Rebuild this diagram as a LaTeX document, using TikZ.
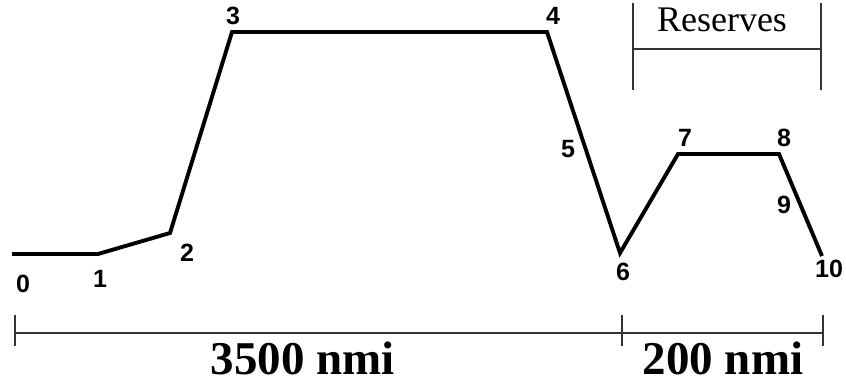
\documentclass[tikz,border=0pt]{standalone}
\usepackage{fontspec}
\setmainfont{Liberation Serif}
\newfontfamily\numfont{Liberation Sans}
\usetikzlibrary{positioning}

\tikzset{
  leg/.style={line width=3.9pt, line join=miter},
  ptlabel/.style={font=\numfont\bfseries\fontsize{25}{25}\selectfont, inner sep=0pt},
  bar/.style={line width=1.4pt, draw=black!80},
  dist/.style={font=\bfseries\fontsize{47}{47}\selectfont, inner sep=0pt, anchor=base},
}

\begin{document}
\begin{tikzpicture}[x=1pt,y=-1pt]
	\useasboundingbox (0,0) rectangle (846,383);
	% mission profile
	\coordinate (p0) at (12,254);
	\coordinate (p1) at (98,254);
	\coordinate (p2) at (170,233);
	\coordinate (p3) at (232,32);
	\coordinate (p4) at (547,32);
	\coordinate (p6) at (620,253);
	\coordinate (p7) at (678,154);
	\coordinate (p8) at (779,154);
	\coordinate (p10) at (822,256);
	\draw[leg] (p0) -- (p1) -- (p2) -- (p3) -- (p4) -- (p6) -- (p7) -- (p8) -- (p10);
	% segment numbers
	\node[ptlabel] (n0) at (23,284) {0};
	\node[ptlabel] (n1) at (100,279) {1};
	\node[ptlabel] (n2) at (187,253) {2};
	\node[ptlabel] (n3) at (233,16) {3};
	\node[ptlabel] (n4) at (553,16) {4};
	\node[ptlabel] (n5) at (568,149) {5};
	\node[ptlabel] (n6) at (623,272) {6};
	\node[ptlabel] (n7) at (685,138) {7};
	\node[ptlabel] (n8) at (784,138) {8};
	\node[ptlabel] (n9) at (784,205) {9};
	\node[ptlabel] (n10) at (829,269) {10};
	% range bar
	\coordinate (b0) at (15,333);
	\coordinate (b1) at (622,333);
	\coordinate (b2) at (823,333);
	\draw[bar] (b0) -- (b2);
	\foreach \c in {b0,b1,b2} {
		\draw[bar] (\c) ++(0,-18) -- ++(0,31);
	}
	\node[dist] (cruise) at (303,374) {3500 nmi};
	\node[dist] (divert) at (723,374) {200 nmi};
	% reserves bracket
	\coordinate (r0) at (633,49);
	\coordinate (r1) at (821,49);
	\draw[bar] (r0) -- (r1);
	\foreach \c in {r0,r1} {
		\draw[bar] (\c) ++(0,-46) -- ++(0,87);
	}
	\node[font=\fontsize{36}{36}\selectfont, inner sep=0pt, anchor=base] (res) at (722,31) {Reserves};
\end{tikzpicture}
\end{document}
